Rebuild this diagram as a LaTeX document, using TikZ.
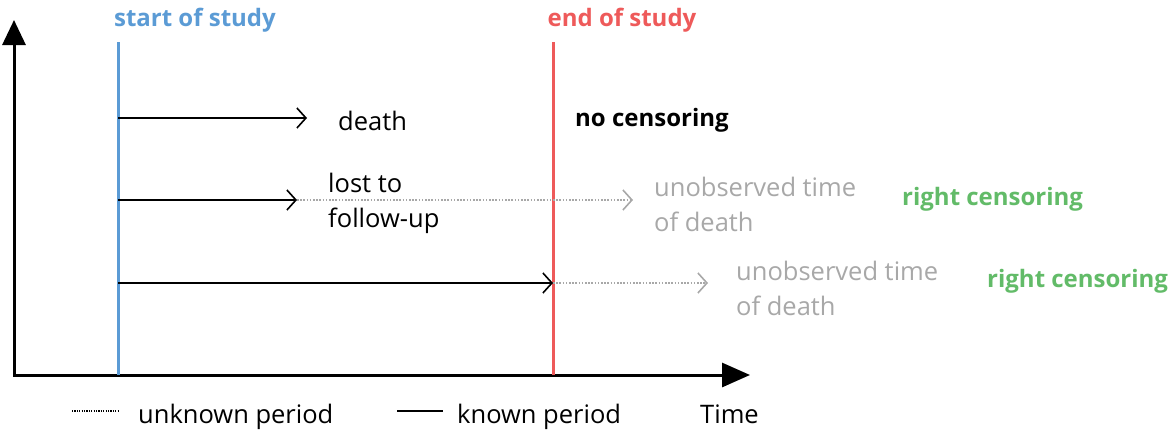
\documentclass[tikz,border=0pt]{standalone}
\usepackage{fontspec}
\setmainfont{Open Sans}
\usepackage{xcolor}
\usetikzlibrary{positioning,arrows.meta}
\definecolor{studyblue}{RGB}{91,155,213}
\definecolor{studyred}{RGB}{238,90,90}
\definecolor{censgreen}{RGB}{98,187,104}
\definecolor{unobsgray}{RGB}{168,168,168}
\tikzstyle{txt}=[anchor=west, inner sep=0pt, text=black, font=\fontsize{25.5}{35}\selectfont, align=left]
\tikzstyle{bold}=[txt, font=\fontsize{24}{35}\selectfont\bfseries]
\tikzstyle{known}=[line width=1.6pt, black]
\tikzstyle{unknown}=[line width=1.6pt, unobsgray, dash pattern=on 1.6pt off 1.6pt]
\tikzstyle{studyline}=[line width=3pt]
\tikzset{>={Straight Barb[length=9pt, width=20pt, line width=1.6pt]}}

\begin{document}
\begin{tikzpicture}[x=1pt, y=-1pt]
    \useasboundingbox (0,0) rectangle (1169,434);

        % axes
        \coordinate (ytop) at (14,20);
        \coordinate (origin) at (14,375);
        \coordinate (xend) at (750,375);
        \draw [line width=3pt, {Triangle[length=25pt, width=23pt]}-{Triangle[length=28pt, width=24pt]}] (ytop) -- (origin) -- (xend);

        % start and end of study
        \coordinate (start0) at (118,375);
        \coordinate (start1) at (118,42);
        \coordinate (end0) at (553,375);
        \coordinate (end1) at (553,42);
        \draw [studyline, studyblue] (start0) -- (start1);
        \draw [studyline, studyred] (end0) -- (end1);
        \node (startDesc) [bold, anchor=base, text=studyblue] at (195,26) {start of study};
        \node (endDesc) [bold, anchor=base, text=studyred] at (622,26) {end of study};

        % no censoring
        \coordinate (row1) at (118,118);
        \coordinate (death1) at (307,118);
        \draw [known, ->] (row1) -- (death1);
        \node (death) [txt, anchor=base west] at (338,130) {death};
        \node (noCens) [bold, anchor=base west] at (575,126) {no censoring};

        % lost to follow-up
        \coordinate (row2) at (118,200);
        \coordinate (lost) at (297,200);
        \coordinate (unobs2) at (633,200);
        \draw [unknown, ->] (lost) -- (unobs2);
        \draw [known, ->] (row2) -- (lost);
        \node (lostDesc) [txt, anchor=base west] at (328,227) {lost to\\follow-up};
        \node (unobsDesc2) [txt, anchor=base west, text=unobsgray] at (654,231) {unobserved time\\of death};
        \node (rightCens2) [bold, anchor=base west, text=censgreen] at (902,205) {right censoring};

        % end of study reached
        \coordinate (row3) at (118,283);
        \coordinate (stop3) at (553,283);
        \coordinate (unobs3) at (708,283);
        \draw [unknown, ->] (stop3) -- (unobs3);
        \draw [known, ->] (row3) -- (stop3);
        \node (unobsDesc3) [txt, anchor=base west, text=unobsgray] at (736,315) {unobserved time\\of death};
        \node (rightCens3) [bold, anchor=base west, text=censgreen] at (987,287) {right censoring};

        % legend
        \coordinate (unk0) at (72,411);
        \coordinate (unk1) at (118,411);
        \draw [line width=1.2pt, black, dash pattern=on 1.2pt off 1.2pt] (unk0) -- (unk1);
        \node (unkDesc) [txt, anchor=base west] at (138,423) {unknown period};
        \coordinate (kn0) at (397,411);
        \coordinate (kn1) at (443,411);
        \draw [known] (kn0) -- (kn1);
        \node (knDesc) [txt, anchor=base west] at (457,423) {known period};
        \node (timeDesc) [txt, anchor=base west] at (700,423) {Time};

    \end{tikzpicture}
\end{document}
